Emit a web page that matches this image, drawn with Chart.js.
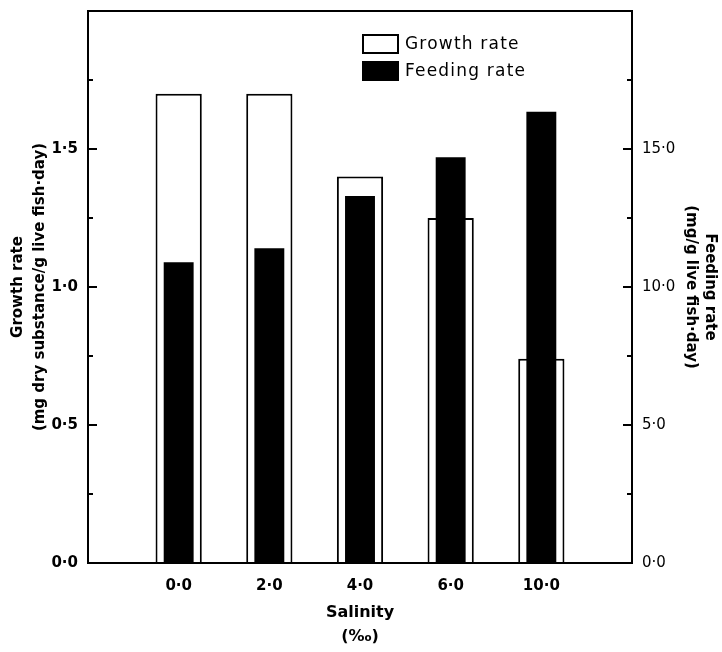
<!DOCTYPE html>
<html>
<head>
<meta charset="utf-8">
<style>
  html, body { margin: 0; padding: 0; background: #fff; }
  #wrap { width: 722px; height: 652px; }
</style>
<script src="https://cdn.jsdelivr.net/npm/chart.js@4/dist/chart.umd.min.js"></script>
</head>
<body>
<div id="wrap"><canvas id="myChart" width="722" height="652"></canvas></div>
<script>
// salinity groups (per mille)
const salinity = ['0·0', '2·0', '4·0', '6·0', '10·0'];
// growth rate, mg dry substance / g live fish·day (left axis)
const growthRate = [1.70, 1.70, 1.40, 1.25, 0.74];
// feeding rate, mg / g live fish·day (right axis)
const feedingRate = [10.9, 11.4, 13.3, 14.7, 16.35];
// labelled ticks on each axis
const growthTicks = [0, 0.5, 1.0, 1.5];
const feedingTicks = [0, 5, 10, 15];

const fmt = v => v.toFixed(1).replace('.', '·');

// box around the plot, inward tick marks and the legend inside the plot
const framePlugin = {
    id: 'frame',
    afterDraw(chart) {
        const ctx = chart.ctx;
        const a = chart.chartArea;
        ctx.save();
        ctx.strokeStyle = '#000';
        ctx.lineWidth = 2;
        ctx.strokeRect(a.left, a.top, a.right - a.left, a.bottom - a.top);

        const drawTicks = (scale, majors, left) => {
            scale.ticks.forEach(t => {
                const y = Math.round(scale.getPixelForValue(t.value));
                const len = majors.includes(t.value) ? 9 : 5;
                ctx.beginPath();
                if (left) {
                    ctx.moveTo(a.left, y);
                    ctx.lineTo(a.left + len, y);
                } else {
                    ctx.moveTo(a.right, y);
                    ctx.lineTo(a.right - len, y);
                }
                ctx.stroke();
            });
        };
        drawTicks(chart.scales.y, growthTicks, true);
        drawTicks(chart.scales.y1, feedingTicks, false);

        // legend
        const items = [
            { text: 'Growth rate', fill: '#fff', y: 35 },
            { text: 'Feeding rate', fill: '#000', y: 62 }
        ];
        ctx.font = '17px "DejaVu Sans"';
        ctx.letterSpacing = '1.2px';
        ctx.textBaseline = 'middle';
        items.forEach(it => {
            ctx.fillStyle = it.fill;
            ctx.fillRect(363, it.y, 35, 18);
            ctx.strokeStyle = '#000';
            ctx.lineWidth = 2;
            ctx.strokeRect(363, it.y, 35, 18);
            ctx.fillStyle = '#000';
            ctx.fillText(it.text, 405, it.y + 10);
        });
        ctx.restore();
    }
};

const ctx = document.getElementById('myChart').getContext('2d');
new Chart(ctx, {
    type: 'bar',
    data: {
        datasets: [{
            label: 'Feeding rate',
            data: feedingRate.map((v, i) => ({ x: i, y: v })),
            yAxisID: 'y1',
            backgroundColor: '#000',
            borderWidth: 0,
            categoryPercentage: 1,
            barPercentage: 0.33,
            order: 0
        }, {
            label: 'Growth rate',
            data: growthRate.map((v, i) => ({ x: i, y: v })),
            yAxisID: 'y',
            backgroundColor: '#fff',
            borderColor: '#000',
            borderWidth: 2,
            borderSkipped: 'bottom',
            categoryPercentage: 1,
            barPercentage: 0.51,
            order: 1
        }]
    },
    options: {
        responsive: false,
        animation: false,
        grouped: false,
        layout: { padding: { top: -3, left: 7, right: 2, bottom: 4 } },
        plugins: {
            legend: { display: false },
            tooltip: { enabled: false }
        },
        scales: {
            x: {
                type: 'linear',
                min: -1,
                max: 5,
                offset: false,
                afterFit: s => { s.height = 85; },
                grid: { display: false },
                border: { display: false },
                ticks: {
                    stepSize: 1,
                    color: '#000',
                    padding: 6,
                    font: { family: 'DejaVu Sans', size: 15, weight: 'bold' },
                    callback: v => salinity[v] ?? ''
                },
                title: {
                    display: true,
                    text: ['Salinity', '(‰)'],
                    color: '#000',
                    padding: { top: 4, bottom: 0 },
                    font: { family: 'DejaVu Sans', size: 16, weight: 'bold', lineHeight: 1.45 }
                }
            },
            y: {
                position: 'left',
                min: 0,
                max: 2,
                afterFit: s => { s.width = 81; },
                grid: { display: false },
                border: { display: false },
                ticks: {
                    stepSize: 0.25,
                    color: '#000',
                    padding: 2,
                    font: { family: 'DejaVu Sans', size: 15, weight: 'bold' },
                    callback: v => growthTicks.includes(v) ? fmt(v) : ''
                },
                title: {
                    display: true,
                    text: ['Growth rate', '(mg dry substance/g live fish·day)'],
                    color: '#000',
                    padding: { top: 0, bottom: 4 },
                    font: { family: 'DejaVu Sans', size: 15, weight: 'bold', lineHeight: 1.45 }
                }
            },
            y1: {
                position: 'right',
                min: 0,
                max: 20,
                afterFit: s => { s.width = 88; },
                grid: { display: false },
                border: { display: false },
                ticks: {
                    stepSize: 2.5,
                    color: '#000',
                    padding: 2,
                    font: { family: 'DejaVu Sans', size: 15 },
                    callback: v => feedingTicks.includes(v) ? fmt(v) : ''
                },
                title: {
                    display: true,
                    text: ['Feeding rate', '(mg/g live fish·day)'],
                    color: '#000',
                    padding: { top: 0, bottom: 2 },
                    font: { family: 'DejaVu Sans', size: 15, weight: 'bold', lineHeight: 1.3 }
                }
            }
        }
    },
    plugins: [framePlugin]
});
</script>
</body>
</html>
